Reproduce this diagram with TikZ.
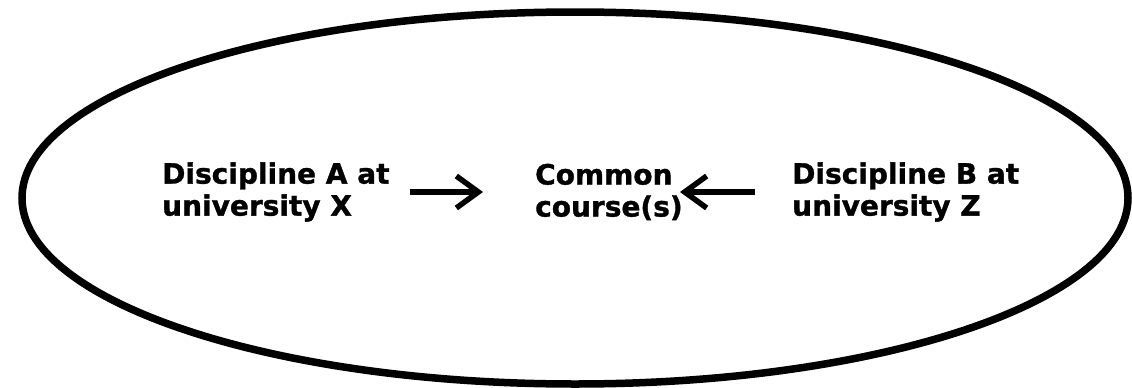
\documentclass[tikz,border=0pt]{standalone}
\usepackage{fontspec}
\setmainfont{DejaVu Sans}[BoldFeatures={FakeBold=1.2}]
\usetikzlibrary{positioning,arrows.meta}
\begin{document}
\begin{tikzpicture}[x=1pt,y=-1pt,
    label/.style={align=left, inner sep=0pt, anchor=west, font=\bfseries\fontsize{28}{32}\selectfont},
    arr/.style={line width=5.5pt, -{Straight Barb[length=22pt, width=32pt]}}]
  \useasboundingbox (0,0) rectangle (1132,388);
  \draw[line width=7.5pt] (575,198) ellipse (553 and 186);
  \node[label] (discA) at (162,192) {Discipline A at\\university X};
  \node[label] (common) at (535,192) {Common\\course(s)};
  \node[label] (discB) at (792,192) {Discipline B at\\university Z};
  \draw[arr] ([xshift=20pt]discA.east) -- ([xshift=-52pt]common.west);
  \draw[arr] ([xshift=-37pt]discB.west) -- ([xshift=145pt]common.west);
\end{tikzpicture}
\end{document}
